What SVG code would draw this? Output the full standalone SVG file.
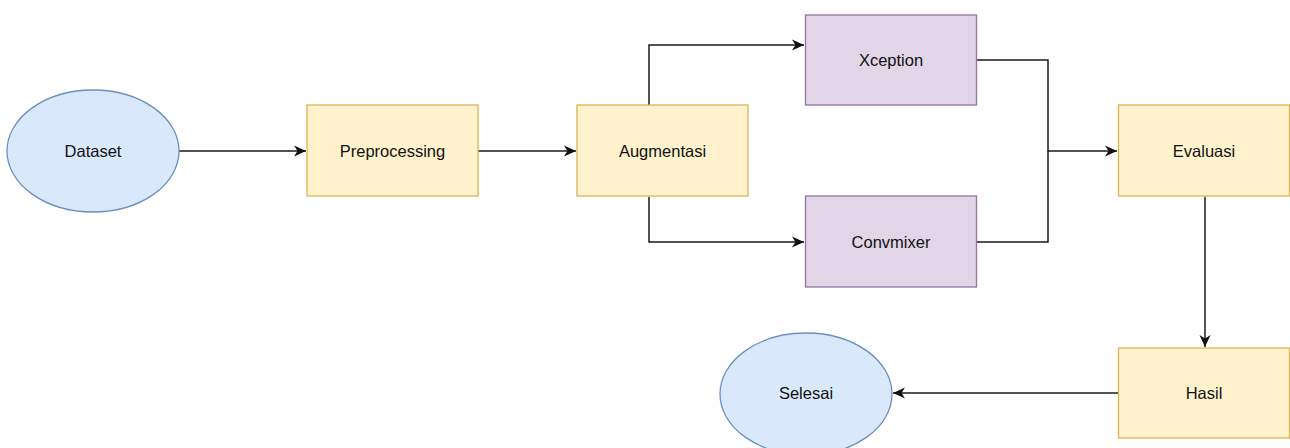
<svg xmlns="http://www.w3.org/2000/svg" width="1290" height="448" viewBox="0 0 1290 448">
<defs>
<style>
.y{fill:#fff2cc;stroke:#d6b656;stroke-width:1.3}
.p{fill:#e1d5e7;stroke:#9673a6;stroke-width:1.3}
.b{fill:#dae8fc;stroke:#6c8ebf;stroke-width:1.3}
.t{font-family:"Liberation Sans",Arial,sans-serif;font-size:16.5px;fill:#111111;text-anchor:middle;dominant-baseline:central}
.c{fill:none;stroke:#1a1a1a;stroke-width:1.5}
</style>
<marker id="a" viewBox="0 0 13 12" refX="12" refY="6" markerWidth="13" markerHeight="12" markerUnits="userSpaceOnUse" orient="auto">
<path d="M0,0.5 L12,6 L0,11.5 L3.5,6 Z" fill="#111111"/>
</marker>
</defs>
<rect width="1290" height="448" fill="#ffffff"/>
<g id="connectors">
<path class="c" d="M179,151 H306" marker-end="url(#a)"/>
<path class="c" d="M478,151 H576" marker-end="url(#a)"/>
<path class="c" d="M649,105 V45 H804" marker-end="url(#a)"/>
<path class="c" d="M649,197 V242 H804" marker-end="url(#a)"/>
<path class="c" d="M977,60 H1048 V151 H1117" marker-end="url(#a)"/>
<path class="c" d="M977,242 H1048 V151"/>
<path class="c" d="M1205,197 V347" marker-end="url(#a)"/>
<path class="c" d="M1118,393 H893" marker-end="url(#a)"/>
</g>
<g id="dataset"><ellipse class="b" cx="93" cy="151" rx="86" ry="61"/><text class="t" x="93" y="151">Dataset</text></g>
<g id="preprocessing"><rect class="y" x="307" y="105" width="171" height="91"/><text class="t" x="392.5" y="151">Preprocessing</text></g>
<g id="augmentasi"><rect class="y" x="577" y="105" width="171" height="91"/><text class="t" x="662.5" y="151">Augmentasi</text></g>
<g id="xception"><rect class="p" x="805.5" y="15" width="171" height="90"/><text class="t" x="891" y="60">Xception</text></g>
<g id="convmixer"><rect class="p" x="805.5" y="196" width="171" height="91"/><text class="t" x="891" y="242">Convmixer</text></g>
<g id="evaluasi"><rect class="y" x="1118.5" y="105" width="171" height="91"/><text class="t" x="1204" y="151">Evaluasi</text></g>
<g id="hasil"><rect class="y" x="1118.5" y="348" width="171" height="90"/><text class="t" x="1204" y="393">Hasil</text></g>
<g id="selesai"><ellipse class="b" cx="806" cy="394" rx="86" ry="61"/><text class="t" x="806" y="393">Selesai</text></g>
</svg>
